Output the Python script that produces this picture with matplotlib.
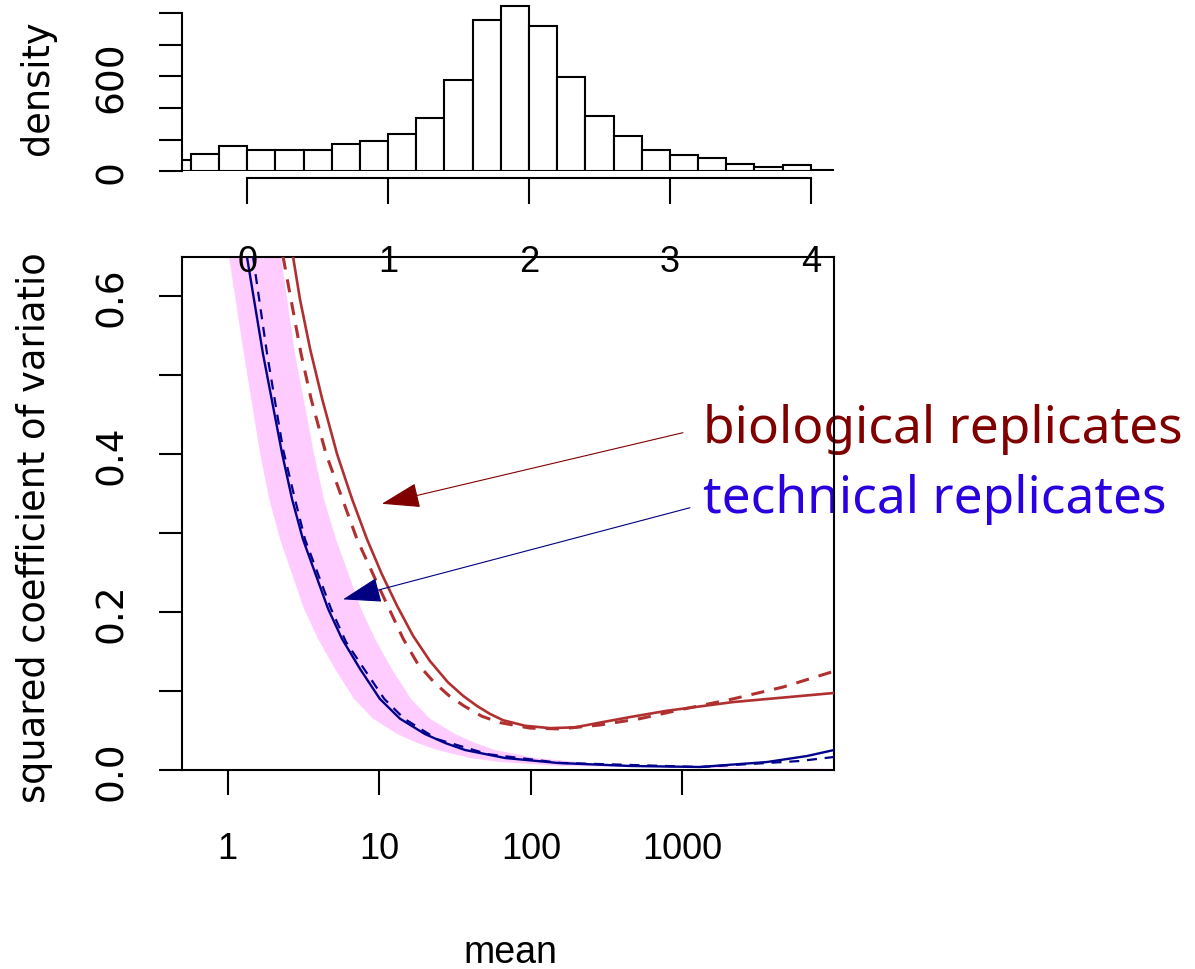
import numpy as np
import matplotlib.pyplot as plt
from matplotlib.transforms import Bbox, TransformedBbox

# histograma de log10(mean): bordes izquierdos de los bins (ancho 0.2) y alturas
bin_left = [-0.6, -0.4, -0.2, 0.0, 0.2, 0.4, 0.6, 0.8, 1.0, 1.2, 1.4, 1.6,
            1.8, 2.0, 2.2, 2.4, 2.6, 2.8, 3.0, 3.2, 3.4, 3.6, 3.8, 4.0]
bin_height = [72, 110, 160, 135, 135, 135, 171, 192, 236, 337, 578, 956,
              1044, 918, 593, 352, 226, 135, 101, 82, 44, 25, 38, 10]
hist_ticks = [0, 1, 2, 3, 4]
dens_ticks = [0, 200, 400, 600, 800, 1000]
dens_labels = ["0", "", "", "600", "", ""]

# curvas CV^2 vs media
bio_mean = [2.70, 3.00, 3.50, 4.20, 5.27, 6.62, 8.31, 10.4, 13.1, 16.7, 21.6,
            28.4, 35.7, 44.2, 53.8, 65.6, 91.6, 134, 196, 286, 451, 791, 2157,
            10000]
bio_cv2 = [0.65, 0.596, 0.533, 0.470, 0.400, 0.343, 0.292, 0.248, 0.208, 0.170,
           0.138, 0.111, 0.094, 0.081, 0.071, 0.063, 0.056, 0.053, 0.054, 0.060,
           0.067, 0.075, 0.086, 0.0975]

bio_dash_mean = [2.32, 3.05, 3.55, 4.46, 7.14, 10.1, 14.4, 18.0, 23.0, 28.9,
                 36.3, 47.6, 62.6, 98.8, 156, 286, 525, 1009, 2157, 4610, 10000]
bio_dash_cv2 = [0.65, 0.527, 0.470, 0.400, 0.292, 0.229, 0.166, 0.134, 0.111,
                0.094, 0.081, 0.068, 0.060, 0.053, 0.052, 0.057, 0.065, 0.077,
                0.090, 0.105, 0.125]

tec_mean = [1.34, 1.71, 2.29, 2.66, 3.14, 4.60, 5.68, 7.47, 10.1, 13.7, 20.0,
            27.2, 36.8, 67.6, 151, 451, 1306, 3614, 6637, 10000]
tec_cv2 = [0.65, 0.527, 0.400, 0.343, 0.292, 0.204, 0.166, 0.128, 0.090, 0.065,
           0.0456, 0.0342, 0.0253, 0.0152, 0.0089, 0.0051, 0.0038, 0.0101,
           0.0177, 0.0253]

tec_dash_mean = [1.47, 1.82, 2.32, 2.78, 3.24, 4.81, 6.04, 7.94, 10.8, 14.6,
                 24.1, 52.2, 156, 1306, 5967, 10000]
tec_dash_cv2 = [0.65, 0.527, 0.406, 0.343, 0.292, 0.204, 0.162, 0.128, 0.090,
                0.065, 0.039, 0.020, 0.009, 0.0038, 0.0114, 0.0165]

band_lo_mean = [1.02, 1.28, 1.64, 1.88, 2.22, 3.19, 3.95, 5.11, 6.82, 9.10,
                13.1, 17.8, 24.1, 39.7, 62.6, 156, 10000]
band_lo_cv2 = [0.65, 0.527, 0.400, 0.343, 0.292, 0.204, 0.166, 0.128, 0.090,
               0.065, 0.0456, 0.0342, 0.0253, 0.0152, 0.0101, 0.0051, 0.0008]
band_hi_mean = [2.25, 2.78, 3.72, 4.32, 5.19, 7.59, 9.38, 12.1, 16.2, 21.6,
                31.6, 42.9, 58.1, 107, 238, 611, 10000]
band_hi_cv2 = [0.65, 0.527, 0.400, 0.343, 0.292, 0.204, 0.166, 0.128, 0.090,
               0.065, 0.0456, 0.0342, 0.0253, 0.0152, 0.0089, 0.0051, 0.0013]

main_xticks = [1, 10, 100, 1000]
main_xlabels = ["1", "10", "100", "1000"]
cv_ticks = [0.0, 0.1, 0.2, 0.3, 0.4, 0.5, 0.6]
cv_labels = ["0.0", "", "0.2", "", "0.4", "", "0.6"]

# etiquetas y flechas (media, cv2)
bio_text_pos = (1368, 0.415)
tec_text_pos = (1368, 0.327)
bio_arrow = ((1009, 0.427), (10.4, 0.337))
tec_arrow = ((1122, 0.332), (5.77, 0.216))

W, H = 1195, 970
fig = plt.figure(figsize=(W / 100, H / 100), dpi=100)

narrow = ["Liberation Sans Narrow", "Liberation Sans", "DejaVu Sans"]
wide = ["DejaVu Sans"]

RED = "#b03030"
BLUE = "#00008b"

# ---- panel principal
ax = fig.add_axes([182 / W, 1 - 771 / H, (834 - 182) / W, (771 - 258) / H])
ax.set_xscale("log")
ax.set_xlim(0.5, 10000)
ax.set_ylim(0, 0.6494)

band_x = np.concatenate([band_hi_mean, band_lo_mean[::-1]])
band_y = np.concatenate([band_hi_cv2, band_lo_cv2[::-1]])
ax.fill(band_x, band_y, color="#ffccff", lw=0, zorder=1)

ax.plot(bio_mean, bio_cv2, color=RED, lw=1.9, zorder=3)
ax.plot(bio_dash_mean, bio_dash_cv2, color=RED, lw=2.2, dashes=(4.3, 3.3), zorder=3)
ax.plot(tec_mean, tec_cv2, color=BLUE, lw=1.7, zorder=3)
ax.plot(tec_dash_mean, tec_dash_cv2, color=BLUE, lw=1.6, dashes=(4.5, 3.5), zorder=3)

ax.set_xticks(main_xticks)
ax.set_xticklabels(main_xlabels, family=narrow, fontsize=26)
ax.minorticks_off()
ax.set_yticks(cv_ticks)
ax.set_yticklabels(cv_labels, rotation=90, va="center", family=wide, fontsize=27)
ax.tick_params(axis="x", direction="out", length=18, width=1.5, pad=26)
ax.tick_params(axis="y", direction="out", length=16.5, width=1.5, pad=21)
for s in ax.spines.values():
    s.set_linewidth(1.5)

ax.annotate("", xy=bio_arrow[1], xytext=bio_arrow[0],
            arrowprops=dict(arrowstyle="-|>,head_length=2.45,head_width=0.8",
                            mutation_scale=10, color="#800000", lw=0.8,
                            shrinkA=0, shrinkB=0), zorder=4)
ax.annotate("", xy=tec_arrow[1], xytext=tec_arrow[0],
            arrowprops=dict(arrowstyle="-|>,head_length=2.45,head_width=0.8",
                            mutation_scale=10, color="#000080", lw=0.8,
                            shrinkA=0, shrinkB=0), zorder=4)

ax.text(*bio_text_pos, "biological replicates", color="#800000", fontsize=37,
        family=["Noto Sans", "DejaVu Sans"], va="baseline", ha="left",
        clip_on=False, zorder=2)
ax.text(*tec_text_pos, "technical replicates", color="#2a00e0", fontsize=37,
        family=["Noto Sans", "DejaVu Sans"], va="baseline", ha="left",
        clip_on=False, zorder=2)

fig.text(510 / W, 1 - 953 / H, "mean", ha="center", va="center",
         family=narrow, fontsize=27)
yl = fig.text(35 / W, 1 - 516 / H, "squared coefficient of variation",
              rotation=90, ha="center", va="center", family=wide, fontsize=26.5)
yl.set_clip_box(TransformedBbox(Bbox([[0, 0], [1, 1 - 255 / H]]), fig.transFigure))
yl.set_clip_on(True)

# ---- histograma
axh = fig.add_axes([182 / W, 1 - 172.3 / H, (834 - 182) / W, (172.3 - 2) / H])
axh.bar(bin_left, bin_height, width=0.2, align="edge", color="white",
        edgecolor="black", lw=1.5)
axh.set_xlim(-0.4636, 4.1655)
axh.set_ylim(0, 170.3 / 0.1583)
axh.spines["top"].set_visible(False)
axh.spines["right"].set_visible(False)
axh.spines["left"].set_bounds(0, 1000)
axh.spines["left"].set_linewidth(1.5)
axh.spines["bottom"].set_position(("outward", 5))
axh.spines["bottom"].set_bounds(0, 4)
axh.spines["bottom"].set_linewidth(1.5)
axh.set_xticks(hist_ticks)
axh.set_xticklabels([str(t) for t in hist_ticks], family=narrow, fontsize=26)
axh.set_yticks(dens_ticks)
axh.set_yticklabels(dens_labels, rotation=90, va="center", family=wide, fontsize=27)
axh.tick_params(axis="x", direction="out", length=19, width=1.5, pad=28)
axh.tick_params(axis="y", direction="out", length=16.5, width=1.5, pad=21)
fig.text(38 / W, 1 - 88 / H, "density", rotation=90, ha="center", va="center",
         family=wide, fontsize=26.5)

fig.savefig("out.png", dpi=100)
